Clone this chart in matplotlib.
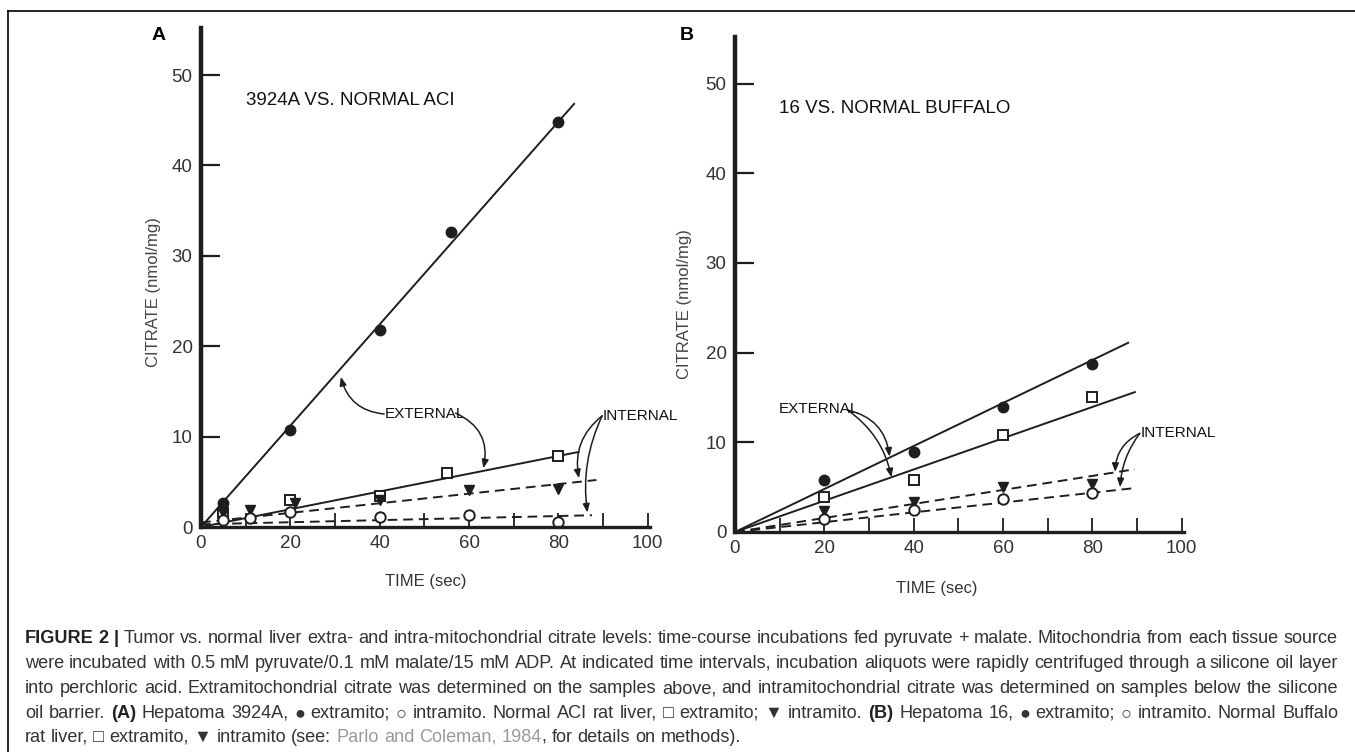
import matplotlib
matplotlib.use("Agg")
import matplotlib.pyplot as plt
from matplotlib.lines import Line2D

# ---- data ----
# panel A: hepatoma 3924A vs normal ACI
a_t_ext_tumor = [5, 20, 40, 56, 80]
a_ext_tumor = [2.7, 10.7, 21.8, 32.6, 44.8]
a_t_ext_norm = [5, 20, 40, 55, 80]
a_ext_norm = [1.5, 3.0, 3.4, 6.0, 7.85]
a_t_int_norm = [5, 11, 21, 40, 60, 80]
a_int_norm = [1.6, 1.9, 2.6, 3.0, 4.1, 4.2]
a_t_int_tumor = [5, 11, 20, 40, 60, 80]
a_int_tumor = [0.8, 1.0, 1.7, 1.1, 1.3, 0.5]
# fitted lines (start, end)
a_fit_ext_tumor = ([0, 83.5], [0, 46.8])
a_fit_ext_norm = ([0, 84.5], [0, 8.3])
a_fit_int_norm = ([0, 88.5], [0.5, 5.2])
a_fit_int_tumor = ([0, 87.5], [0.3, 1.3])

# panel B: hepatoma 16 vs normal Buffalo
b_t = [20, 40, 60, 80]
b_ext_tumor = [5.8, 8.9, 13.9, 18.7]
b_ext_norm = [3.9, 5.85, 10.8, 15.0]
b_int_norm = [2.3, 3.4, 5.0, 5.3]
b_int_tumor = [1.5, 2.4, 3.7, 4.4]
b_fit_ext_tumor = ([0, 88], [0, 21.1])
b_fit_ext_norm = ([0, 89.5], [0, 15.6])
b_fit_int_norm = ([0, 89.5], [0, 7.0])
b_fit_int_tumor = ([0, 89.5], [0, 4.9])

xticks = [0, 20, 40, 60, 80, 100]
yticks = [0, 10, 20, 30, 40, 50]

INK = "#1e1e1e"
NARROW = ["Liberation Sans Narrow", "Liberation Sans", "DejaVu Sans"]
SANS = ["Liberation Sans", "DejaVu Sans"]

fig = plt.figure(figsize=(13.55, 7.52), dpi=100)

# frame lines of the figure panel
fig.add_artist(Line2D([8/1355, 1], [1 - 11/752, 1 - 11/752], color="black", lw=1.2))
fig.add_artist(Line2D([8/1355, 8/1355], [0, 1 - 11/752], color="black", lw=1.2))


def style_axes(ax):
    ax.set_xlim(0, 100.5)
    ax.set_ylim(0, 55.2)
    for s in ["top", "right"]:
        ax.spines[s].set_visible(False)
    ax.spines["left"].set_linewidth(3.2)
    ax.spines["bottom"].set_linewidth(2.4)
    ax.spines["left"].set_color(INK)
    ax.spines["bottom"].set_color(INK)
    ax.set_xticks(range(0, 101, 10))
    ax.set_xticklabels([str(v) if v in xticks else "" for v in range(0, 101, 10)])
    ax.set_yticks(yticks)
    ax.tick_params(axis="x", direction="in", length=10, width=1.3, color=INK,
                   pad=6, labelsize=13.5, labelcolor="#333333")
    ax.tick_params(axis="y", direction="in", length=14, width=1.6, color=INK,
                   pad=6, labelsize=13.5, labelcolor="#333333")
    ax.yaxis.get_major_ticks()[0].tick1line.set_visible(False)
    for lab in ax.get_xticklabels() + ax.get_yticklabels():
        lab.set_family(NARROW)
    ax.set_ylabel("CITRATE (nmol/mg)", family=NARROW, fontsize=12, color="#444444")
    ax.set_xlabel("TIME (sec)", family=NARROW, fontsize=12, color="#333333")
    ax.patch.set_alpha(0)


def fit(ax, line, dashed=False):
    if dashed:
        ax.plot(line[0], line[1], color=INK, lw=1.4, ls=(0, (5, 3)))
    else:
        ax.plot(line[0], line[1], color=INK, lw=1.4)


def arrow(ax, start, tip, rad):
    ax.annotate("", xy=tip, xytext=start,
                arrowprops=dict(arrowstyle="-|>,head_length=0.5,head_width=0.2",
                                color=INK, lw=1.1,
                                connectionstyle="arc3,rad=%s" % rad,
                                shrinkA=0, shrinkB=0))


ms = 7.5
# ---- panel A ----
axA = fig.add_axes([201/1355, 225/752, 449/1355, 499/752])
style_axes(axA)
fit(axA, a_fit_ext_tumor)
fit(axA, a_fit_ext_norm)
fit(axA, a_fit_int_norm, dashed=True)
fit(axA, a_fit_int_tumor, dashed=True)
axA.plot(a_t_ext_tumor, a_ext_tumor, "o", color=INK, ms=ms)
axA.plot(a_t_ext_norm, a_ext_norm, "s", mfc="white", mec=INK, mew=1.4, ms=ms)
axA.plot(a_t_int_norm, a_int_norm, "v", color=INK, ms=ms)
axA.plot(a_t_int_tumor, a_int_tumor, "o", mfc="white", mec=INK, mew=1.4, ms=ms)
axA.text(10, 47.2, "3924A VS. NORMAL ACI", family=NARROW, fontsize=13.5,
         color="#111111", va="center")
axA.text(41.2, 12.5, "EXTERNAL", family=NARROW, fontsize=11, color="#111111", va="center")
arrow(axA, (41.0, 12.5), (31.3, 16.6), -0.35)
arrow(axA, (57.0, 12.6), (63.2, 6.5), -0.4)
axA.text(90, 12.3, "INTERNAL", family=NARROW, fontsize=11, color="#111111", va="center")
arrow(axA, (89.8, 12.3), (84.6, 5.4), 0.3)
arrow(axA, (89.8, 12.3), (86.5, 1.6), 0.15)
axA.yaxis.set_label_coords(-0.09, 0.47)
axA.xaxis.set_label_coords(0.5, -0.095)

# ---- panel B ----
axB = fig.add_axes([735/1355, 220/752, 449/1355, 495/752])
style_axes(axB)
fit(axB, b_fit_ext_tumor)
fit(axB, b_fit_ext_norm)
fit(axB, b_fit_int_norm, dashed=True)
fit(axB, b_fit_int_tumor, dashed=True)
axB.plot(b_t, b_ext_tumor, "o", color=INK, ms=ms)
axB.plot(b_t, b_ext_norm, "s", mfc="white", mec=INK, mew=1.4, ms=ms)
axB.plot(b_t, b_int_norm, "v", color=INK, ms=ms)
axB.plot(b_t, b_int_tumor, "o", mfc="white", mec=INK, mew=1.4, ms=ms)
axB.text(9.8, 47.2, "16 VS. NORMAL BUFFALO", family=NARROW, fontsize=13.5,
         color="#111111", va="center")
axB.text(9.9, 13.7, "EXTERNAL", family=NARROW, fontsize=11, color="#111111", va="center")
arrow(axB, (25.2, 13.6), (34.6, 8.4), -0.35)
arrow(axB, (25.2, 13.6), (35.0, 6.1), -0.2)
axB.text(90.8, 11.0, "INTERNAL", family=NARROW, fontsize=11, color="#111111", va="center")
arrow(axB, (90.6, 11.0), (85.1, 6.7), 0.3)
arrow(axB, (90.6, 11.0), (86.2, 5.0), 0.15)
axB.yaxis.set_label_coords(-0.095, 0.46)
axB.xaxis.set_label_coords(0.45, -0.1)

# panel letters
fig.text(159/1355, 1 - 36/752, "A", fontsize=14, weight="bold", family=SANS,
         ha="center", va="center")
fig.text(687/1355, 1 - 36/752, "B", fontsize=14, weight="bold", family=SANS,
         ha="center", va="center")

# ---- caption (justified, except the last line) ----
# a segment that does not start with a space is glued to the previous word
cap_lines = [
    [("FIGURE 2 |", "bold", "#222222"),
     (" Tumor vs. normal liver extra- and intra-mitochondrial citrate levels: time-course "
      "incubations fed pyruvate + malate. Mitochondria from each tissue source", "normal", "#333333")],
    [("were incubated with 0.5 mM pyruvate/0.1 mM malate/15 mM ADP. At indicated time intervals, "
      "incubation aliquots were rapidly centrifuged through a silicone oil layer", "normal", "#333333")],
    [("into perchloric acid. Extramitochondrial citrate was determined on the samples above, and "
      "intramitochondrial citrate was determined on samples below the silicone", "normal", "#333333")],
    [("oil barrier.", "normal", "#333333"), (" (A)", "bold", "#222222"),
     (" Hepatoma 3924A, \u25cf extramito; \u25cb intramito. Normal ACI rat liver, \u25a1 extramito; "
      "\u25bc intramito.", "normal", "#333333"), (" (B)", "bold", "#222222"),
     (" Hepatoma 16, \u25cf extramito; \u25cb intramito. Normal Buffalo", "normal", "#333333")],
    [("rat liver, \u25a1 extramito, \u25bc intramito (see:", "normal", "#333333"),
     (" Parlo and Coleman, 1984", "normal", "#9a9a9a"),
     (", for details on methods).", "normal", "#333333")],
]
cap_y = [643, 668, 693, 718, 742]   # baselines in pixels from the top
cap_left, cap_right = 25.0, 1338.0
cap_size = 13.1

fig.canvas.draw()
renderer = fig.canvas.get_renderer()
probe = fig.text(0, 0, "a a", fontsize=cap_size, family=SANS)
w_aa = probe.get_window_extent(renderer=renderer).width
probe.set_text("aa")
space_w = w_aa - probe.get_window_extent(renderer=renderer).width
probe.remove()

for i, (segs, ypix) in enumerate(zip(cap_lines, cap_y)):
    # words: list of groups, each group is a list of (piece, weight, colour)
    groups = []
    for txt, wt, col in segs:
        parts = txt.split(" ")
        for j, p in enumerate(parts):
            if p == "":
                continue
            if j == 0 and groups:
                groups[-1].append((p, wt, col))
            else:
                groups.append([(p, wt, col)])
    placed = []
    for g in groups:
        pieces = []
        for p, wt, col in g:
            t = fig.text(0, 1 - ypix/752, p, fontsize=cap_size, weight=wt, color=col,
                         family=SANS, va="baseline", ha="left")
            pieces.append((t, t.get_window_extent(renderer=renderer).width))
        placed.append(pieces)
    widths = [sum(w for _, w in pcs) for pcs in placed]
    if i < len(cap_lines) - 1:
        gap = (cap_right - cap_left - sum(widths)) / (len(placed) - 1)
    else:
        gap = space_w
    x = cap_left
    for pcs, w in zip(placed, widths):
        xx = x
        for t, pw in pcs:
            t.set_x(xx/1355)
            xx += pw
        x += w + gap

fig.savefig("out.png", dpi=100)
